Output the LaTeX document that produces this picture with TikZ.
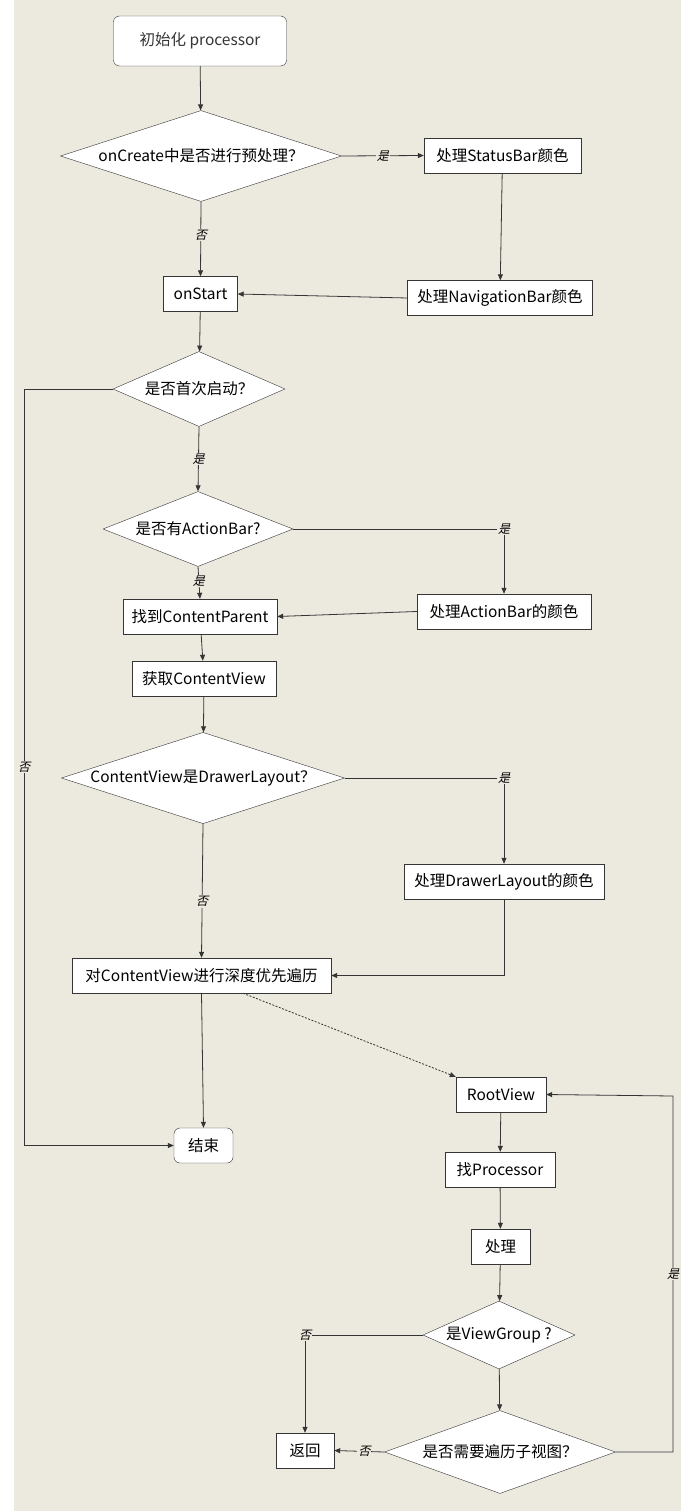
\documentclass[tikz,border=0pt]{standalone}
\usepackage{fontspec}
\setmainfont{Noto Sans CJK SC}
\newfontfamily\lblfont[FakeSlant=0.25]{Noto Sans CJK SC}
\usetikzlibrary{arrows.meta,shapes.geometric,positioning,calc}
\definecolor{paper}{HTML}{ECE9DF}
\definecolor{ink}{HTML}{353535}

\begin{document}
\begin{tikzpicture}[x=1pt, y=-1pt,
  blk/.style={draw=ink, fill=white, font=\fontsize{15.5}{18}\selectfont, minimum height=35pt, inner sep=2pt},
  term/.style={blk, rounded corners=6pt},
  dec/.style={diamond, draw=ink, fill=white, inner sep=1pt, font=\fontsize{15.5}{18}\selectfont},
  flow/.style={draw=ink, line width=0.8pt, -{Triangle[length=6pt, width=5pt]}},
  lbl/.style={fill=paper, inner sep=1pt, font=\lblfont\fontsize{12}{14}\selectfont}]
\useasboundingbox (0,0) rectangle (697,1511);
\fill[paper] (14,0) rectangle (681,1511);

% main flow
\node[term, minimum width=173pt, minimum height=50pt, text=ink] (init) at (200,41) {初始化 processor};
\node[dec, aspect=3.1, minimum width=281pt, minimum height=91pt] (q1) at (201,156) {onCreate中是否进行预处理？};
\node[blk, minimum width=157pt] (status) at (502.5,155.5) {处理StatusBar颜色};
\node[blk, minimum width=185pt] (navbar) at (500,298) {处理NavigationBar颜色};
\node[blk, minimum width=74pt] (start) at (200.5,294) {onStart};
\node[dec, aspect=2.3, minimum width=172pt, minimum height=75pt] (q2) at (199,389) {是否首次启动？};
\node[dec, aspect=2.5, minimum width=190pt, minimum height=75pt] (q3) at (198,529) {是否有ActionBar?};
\node[blk, minimum width=174pt] (abar) at (504,611.5) {处理ActionBar的颜色};
\node[blk, minimum width=154pt] (parent) at (200,616.5) {找到ContentParent};
\node[blk, minimum width=144pt] (getcv) at (204,678.5) {获取ContentView};
\node[dec, aspect=3.1, minimum width=282pt, minimum height=90pt] (q4) at (203,778) {ContentView是DrawerLayout？};
\node[blk, minimum width=200pt] (drawer) at (504,881.5) {处理DrawerLayout的颜色};
\node[blk, minimum width=259pt] (trav) at (201.5,975.5) {对ContentView进行深度优先遍历};
\node[term, minimum width=59pt] (finish) at (203.5,1145.5) {结束};

% traversal
\node[blk, minimum width=90pt] (root) at (501,1094.5) {RootView};
\node[blk, minimum width=110pt] (findp) at (500,1169.5) {找Processor};
\node[blk, minimum width=59pt] (handle) at (500.5,1246.5) {处理};
\node[dec, aspect=2.2, minimum width=152pt, minimum height=68pt] (q5) at (499,1335) {是ViewGroup ?};
\node[dec, aspect=2.8, minimum width=231pt, minimum height=83pt] (q6) at (500,1452) {是否需要遍历子视图？};
\node[blk, minimum width=58pt] (back) at (305,1450.5) {返回};

\draw[flow] (init) -- (q1);
\draw[flow] (q1.east) -- node[lbl]{是} (status.west);
\draw[flow] (status) -- (navbar);
\draw[flow] (q1.south) -- node[lbl, pos=0.45]{否} (start.north);
\draw[flow] (navbar.west) -- (start.east);
\draw[flow] (start) -- (q2);
\draw[flow] (q2.west) -- (24,389) -- node[lbl]{否} (24,1145.5) -- (finish.west);
\draw[flow] (q2.south) -- node[lbl]{是} (q3.north);
\draw[flow] (q3.east) -| node[lbl]{是} (abar.north);
\draw[flow] (q3.south) -- node[lbl, pos=0.45]{是} (parent.north);
\draw[flow] (abar.west) -- (parent.east);
\draw[flow] (parent) -- (getcv);
\draw[flow] (getcv) -- (q4);
\draw[flow] (q4.east) -| node[lbl]{是} (drawer.north);
\draw[flow] (q4.south) -- node[lbl, pos=0.58]{否} (trav.north);
\draw[flow] (drawer.south) |- (trav.east);
\draw[flow] (trav.south) -- (finish.north);
\draw[flow, dash pattern=on 2pt off 1.5pt] ($(trav.south west)!0.66!(trav.south east)$) -- (root.north west);

\draw[flow] (root) -- (findp);
\draw[flow] (findp) -- (handle);
\draw[flow] (handle) -- (q5);
\draw[flow] (q5.west) -| node[lbl]{否} (back.north);
\draw[flow] (q5) -- (q6);
\draw[flow] (q6.west) -- node[lbl, pos=0.4]{否} (back.east);
\draw[flow] (q6.east) -- (673,1452) -- node[lbl]{是} (673,1096) -- (root.east);
\end{tikzpicture}
\end{document}
